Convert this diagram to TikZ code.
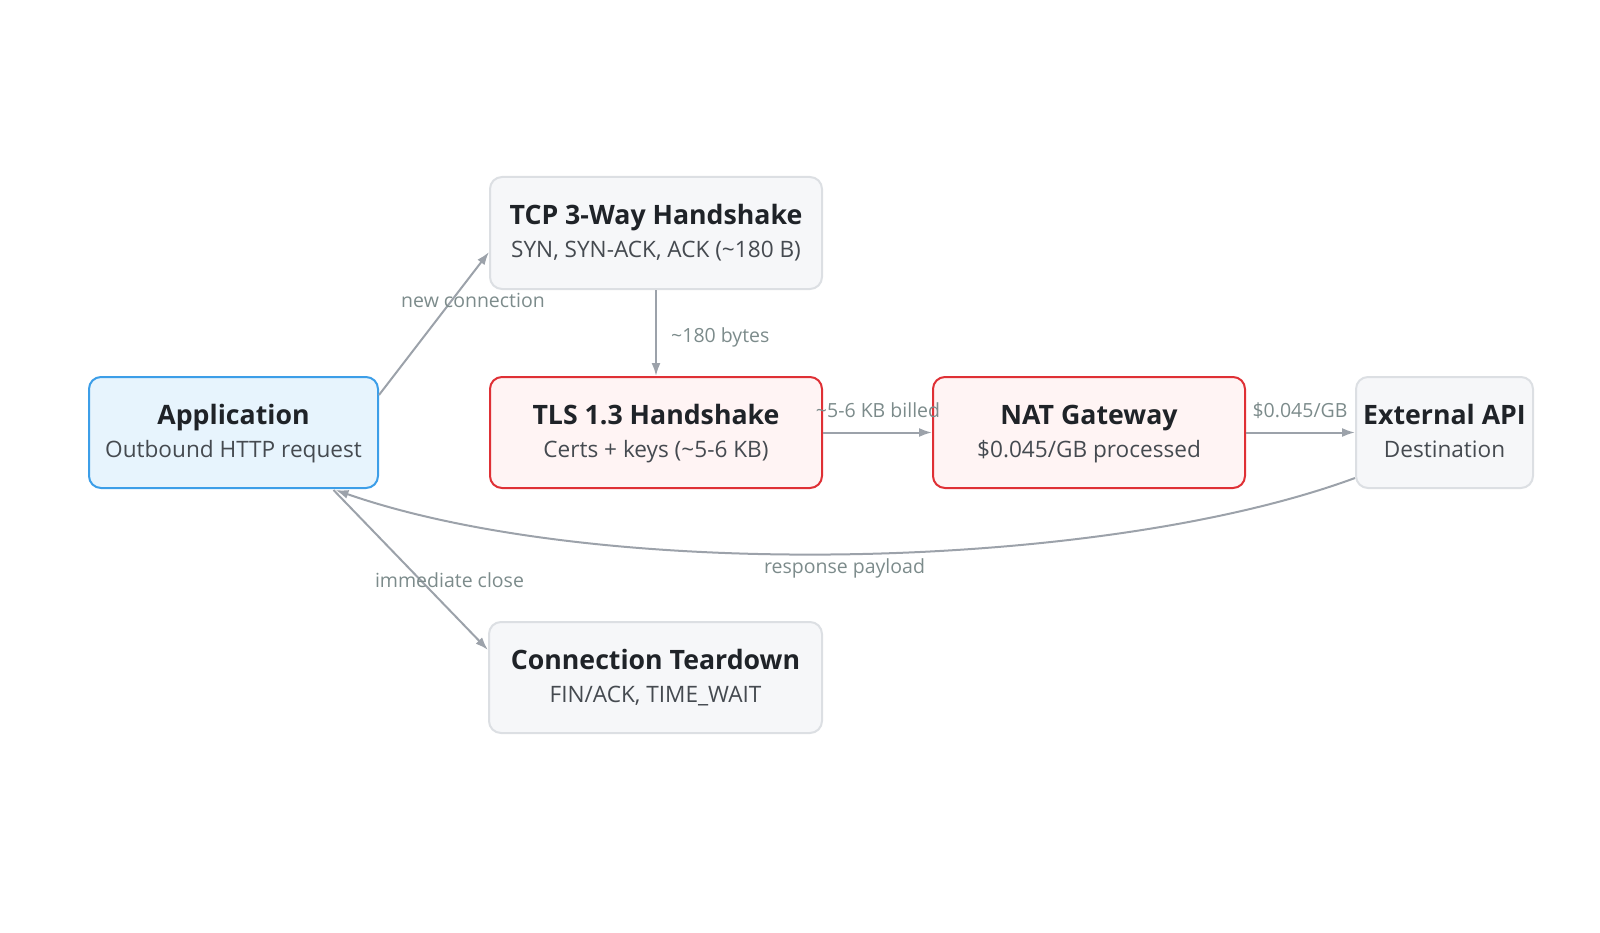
\documentclass[tikz,border=0pt]{standalone}
\usepackage{fontspec}
\setmainfont{Open Sans}
\usetikzlibrary{arrows.meta,calc}
\definecolor{appfill}{HTML}{E7F4FD}
\definecolor{appdraw}{HTML}{3C9EE8}
\definecolor{redfill}{HTML}{FFF4F4}
\definecolor{reddraw}{HTML}{DF3035}
\definecolor{grayfill}{HTML}{F6F7F9}
\definecolor{graydraw}{HTML}{DCDFE3}
\definecolor{edgecol}{HTML}{9CA2AA}
\definecolor{labcol}{HTML}{7C8B8B}
\definecolor{titlecol}{HTML}{1F2328}
\definecolor{subcol}{HTML}{454A50}
\tikzset{
  box/.style={draw, line width=2pt, rounded corners=12pt, inner sep=0pt},
  appbox/.style={box, fill=appfill, draw=appdraw},
  redbox/.style={box, fill=redfill, draw=reddraw},
  graybox/.style={box, fill=grayfill, draw=graydraw},
  ttl/.style={anchor=base, inner sep=0pt, text=titlecol, font=\fontsize{26.7}{30}\selectfont\bfseries},
  sub/.style={anchor=base, inner sep=0pt, text=subcol, font=\fontsize{22.6}{26}\selectfont},
  lab/.style={anchor=base, inner sep=0pt, text=labcol, font=\fontsize{19.5}{22}\selectfont},
  conn/.style={draw=edgecol, line width=2pt, -{Latex[length=13pt,width=9pt]}},
}
\begin{document}
\begin{tikzpicture}[x=1pt,y=-1pt]
\useasboundingbox (0,0) rectangle (1600,933);
% boxes
\node[appbox, minimum width=289pt, minimum height=111pt] (app) at (233.5,432.5) {};
\node[graybox, minimum width=332pt, minimum height=112pt] (tcp) at (656,233) {};
\node[redbox, minimum width=332pt, minimum height=111pt] (tls) at (656,432.5) {};
\node[redbox, minimum width=312pt, minimum height=111pt] (nat) at (1089,432.5) {};
\node[graybox, minimum width=177pt, minimum height=111pt] (ext) at (1444.5,432.5) {};
\node[graybox, minimum width=333pt, minimum height=111pt] (tear) at (655.5,677.5) {};
% texts
\node[ttl] (appt) at ($(app.center)+(0,-8.5)$) {Application};
\node[sub] (apps) at ($(app.center)+(0,25)$) {Outbound HTTP request};
\node[ttl] (tcpt) at ($(tcp.center)+(0,-8.5)$) {TCP 3-Way Handshake};
\node[sub] (tcps) at ($(tcp.center)+(0,25)$) {SYN, SYN-ACK, ACK (\char`~180 B)};
\node[ttl] (tlst) at ($(tls.center)+(0,-8.5)$) {TLS 1.3 Handshake};
\node[sub] (tlss) at ($(tls.center)+(0,25)$) {Certs + keys (\char`~5-6 KB)};
\node[ttl] (natt) at ($(nat.center)+(0,-8.5)$) {NAT Gateway};
\node[sub] (nats) at ($(nat.center)+(0,25)$) {\$0.045/GB processed};
\node[ttl] (extt) at ($(ext.center)+(0,-8.5)$) {External API};
\node[sub] (exts) at ($(ext.center)+(0,25)$) {Destination};
\node[ttl] (teart) at ($(tear.center)+(0,-8.5)$) {Connection Teardown};
\node[sub] (tears) at ($(tear.center)+(0,25)$) {FIN/ACK, TIME\_WAIT};
% anchor coordinates
\coordinate (appNE) at ($(app.east)+(0,-37.5)$);
\coordinate (tcpW) at ($(tcp.west)+(0,19)$);
\coordinate (appS) at ($(app.south)+(102,1)$);
\coordinate (appS2) at ($(app.south)+(100,1)$);
\coordinate (extSW) at ($(ext.south west)+(0,-11)$);
\coordinate (tearW) at ($(tear.west)+(0,-27.5)$);
% connectors
\draw[conn] (appNE) -- (tcpW);
\draw[conn] (tcp.south) -- (tls.north);
\draw[conn] (tls.east) -- (nat.west);
\draw[conn] (nat.east) -- (ext.west);
\draw[conn] (extSW) .. controls (1100,572) and (600,582) .. (appS);
\draw[conn] (appS2) -- (tearW);
% labels
\node[lab] (l1) at (473,307) {new connection};
\node[lab, anchor=base west] (l2) at (671,342) {\char`~180 bytes};
\node[lab] (l3) at (878,417) {\char`~5-6 KB billed};
\node[lab] (l4) at (1300,417) {\$0.045/GB};
\node[lab] (l5) at (844.5,573) {response payload};
\node[lab] (l6) at (449.5,587) {immediate close};
\end{tikzpicture}
\end{document}
